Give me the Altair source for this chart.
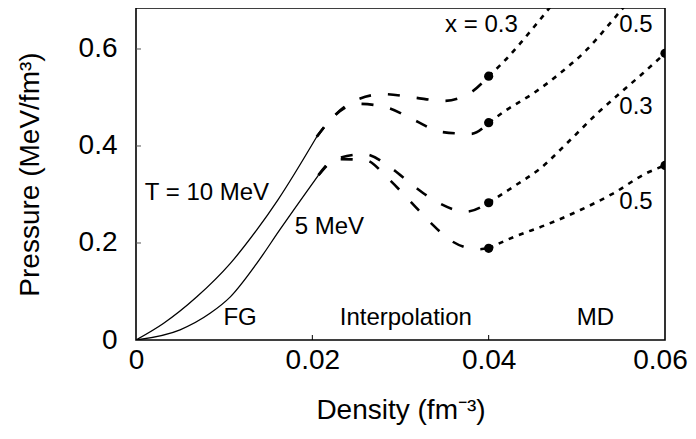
import altair as alt
import pandas as pd

# ---- data ----
# FG region (solid)
t10_fg_x = [0, 0.0031, 0.0069, 0.0107, 0.0137, 0.0161, 0.0205]
t10_fg_y = [0, 0.034, 0.089, 0.158, 0.227, 0.289, 0.419]
t5_fg_x = [0, 0.005, 0.0084, 0.0107, 0.0137, 0.0163, 0.0207]
t5_fg_y = [0, 0.021, 0.055, 0.089, 0.158, 0.227, 0.340]

# Interpolation region (dashed)
t10_x03_int_x = [0.0205, 0.0222, 0.0250, 0.0281, 0.0315, 0.0349, 0.0381, 0.04]
t10_x03_int_y = [0.419, 0.457, 0.495, 0.507, 0.500, 0.493, 0.512, 0.544]
t10_x05_int_x = [0.0205, 0.0222, 0.0252, 0.0285, 0.0315, 0.0346, 0.0380, 0.04]
t10_x05_int_y = [0.419, 0.457, 0.487, 0.479, 0.454, 0.429, 0.425, 0.448]
t5_x03_int_x = [0.0207, 0.0227, 0.0259, 0.0289, 0.0315, 0.0343, 0.0374, 0.04]
t5_x03_int_y = [0.340, 0.373, 0.383, 0.355, 0.3175, 0.283, 0.2646, 0.283]
t5_x05_int_x = [0.0207, 0.0227, 0.0260, 0.0286, 0.0309, 0.0333, 0.0358, 0.0388, 0.04]
t5_x05_int_y = [0.340, 0.373, 0.371, 0.333, 0.290, 0.244, 0.204, 0.187, 0.189]

# MD region (dotted)
t10_x03_md_x = [0.04, 0.0415, 0.0436, 0.0458, 0.0470, 0.0480]
t10_x03_md_y = [0.544, 0.570, 0.612, 0.660, 0.687, 0.710]
t10_x05_md_x = [0.04, 0.0420, 0.0451, 0.0481, 0.0511, 0.0541, 0.0555, 0.0565]
t10_x05_md_y = [0.448, 0.474, 0.509, 0.550, 0.598, 0.660, 0.690, 0.710]
t5_x03_md_x = [0.04, 0.0428, 0.0458, 0.0494, 0.0523, 0.0549, 0.0575, 0.06]
t5_x03_md_y = [0.283, 0.316, 0.353, 0.415, 0.467, 0.509, 0.550, 0.591]
t5_x05_md_x = [0.04, 0.0428, 0.0466, 0.0504, 0.0541, 0.0579, 0.06]
t5_x05_md_y = [0.189, 0.212, 0.238, 0.268, 0.302, 0.344, 0.360]

# MD data points
dot_x = [0.04, 0.04, 0.04, 0.04, 0.06, 0.06]
dot_y = [0.544, 0.448, 0.283, 0.189, 0.591, 0.360]

# annotations, grouped by text alignment
left_text = ["T = 10 MeV", "5 MeV"]
left_x = [0.0010, 0.0180]
left_y = [0.303, 0.233]
center_text = ["FG", "Interpolation", "MD"]
center_x = [0.0118, 0.0306, 0.0521]
center_y = [0.045, 0.045, 0.045]
right_text = ["x = 0.3", "0.5", "0.3", "0.5"]
right_x = [0.0433, 0.0586, 0.0586, 0.0586]
right_y = [0.649, 0.649, 0.480, 0.285]

x_ticks = [0, 0.02, 0.04, 0.06]
y_ticks = [0, 0.2, 0.4, 0.6]


def frame(name, xs, ys):
    return pd.DataFrame({"x": xs, "y": ys, "curve": name})


solid = pd.concat([frame("t10", t10_fg_x, t10_fg_y), frame("t5", t5_fg_x, t5_fg_y)])
dashed = pd.concat([
    frame("a", t10_x03_int_x, t10_x03_int_y),
    frame("b", t10_x05_int_x, t10_x05_int_y),
    frame("c", t5_x03_int_x, t5_x03_int_y),
    frame("d", t5_x05_int_x, t5_x05_int_y),
])
dotted = pd.concat([
    frame("a", t10_x03_md_x, t10_x03_md_y),
    frame("b", t10_x05_md_x, t10_x05_md_y),
    frame("c", t5_x03_md_x, t5_x03_md_y),
    frame("d", t5_x05_md_x, t5_x05_md_y),
])
dots = pd.DataFrame({"x": dot_x, "y": dot_y})

FONT = "Liberation Sans"
PLOT_W = 529
PLOT_H = 332
xscale = alt.Scale(domain=[0, 0.06], nice=False, zero=False)
yscale = alt.Scale(domain=[0, 0.6845], nice=False, zero=False)

x_axis = alt.Axis(values=x_ticks, format="~g", title="Density (fm⁻³)",
                  grid=False, ticks=False, tickSize=0, domain=False,
                  labelFont=FONT, labelFontSize=28, labelColor="black",
                  labelPadding=6, labelFlush=False, labelOverlap=False,
                  labelOffset=alt.condition("datum.value > 0.05", alt.value(-5), alt.value(0)),
                  titleFont=FONT, titleFontSize=28, titleFontWeight="normal",
                  titleColor="black", titleX=PLOT_W / 2, titleY=70,
                  titleBaseline="middle", titleAlign="center")
y_axis = alt.Axis(values=y_ticks, format="~g", title="Pressure (MeV/fm³)",
                  grid=False, ticks=False, tickSize=0, domain=False,
                  labelFont=FONT, labelFontSize=28, labelColor="black",
                  labelPadding=19, labelFlush=False, labelOverlap=False,
                  titleFont=FONT, titleFontSize=28, titleFontWeight="normal",
                  titleColor="black", titleX=-106, titleY=166, titleAngle=-90,
                  titleBaseline="middle", titleAlign="center")

X = alt.X("x:Q", scale=xscale, axis=x_axis)
Y = alt.Y("y:Q", scale=yscale, axis=y_axis)

solid_layer = alt.Chart(solid).mark_line(
    color="black", strokeWidth=1.3, interpolate="monotone", clip=True
).encode(x=X, y=Y, detail="curve:N")

dashed_layer = alt.Chart(dashed).mark_line(
    color="black", strokeWidth=2.6, strokeDash=[12, 17], interpolate="monotone", clip=True
).encode(x=X, y=Y, detail="curve:N")

dotted_layer = alt.Chart(dotted).mark_line(
    color="black", strokeWidth=2.6, strokeDash=[5, 6], interpolate="monotone", clip=True
).encode(x=X, y=Y, detail="curve:N")

dot_layer = alt.Chart(dots).mark_circle(
    color="black", size=85, opacity=1, clip=True
).encode(x=X, y=Y)


def text_layer(texts, xs, ys, align):
    df = pd.DataFrame({"x": xs, "y": ys, "t": texts})
    return alt.Chart(df).mark_text(
        font=FONT, fontSize=24, color="black", baseline="middle", align=align
    ).encode(x=X, y=Y, text="t:N")


xt = pd.DataFrame({"x": x_ticks[1:-1]})
yt = pd.DataFrame({"y": y_ticks[1:]})
xtick_layer = alt.Chart(xt).mark_rule(color="black", strokeWidth=1).encode(
    x=X, y=alt.value(PLOT_H), y2=alt.value(PLOT_H - 5))
ytick_layer = alt.Chart(yt).mark_rule(color="#555555", strokeWidth=1).encode(
    y=Y, x=alt.value(0), x2=alt.value(5))

chart = alt.layer(
    solid_layer, dashed_layer, dotted_layer, dot_layer,
    text_layer(left_text, left_x, left_y, "left"),
    text_layer(center_text, center_x, center_y, "center"),
    text_layer(right_text, right_x, right_y, "right"),
    xtick_layer, ytick_layer
).properties(
    width=PLOT_W, height=PLOT_H,
    background="white",
    autosize=alt.AutoSizeParams(type="none"),
    padding={"left": 128, "top": 0, "right": 23, "bottom": 85},
).configure_view(
    stroke="black", strokeWidth=1.6
)

chart.save("out.html", embed_options={"renderer": "svg", "actions": False})
